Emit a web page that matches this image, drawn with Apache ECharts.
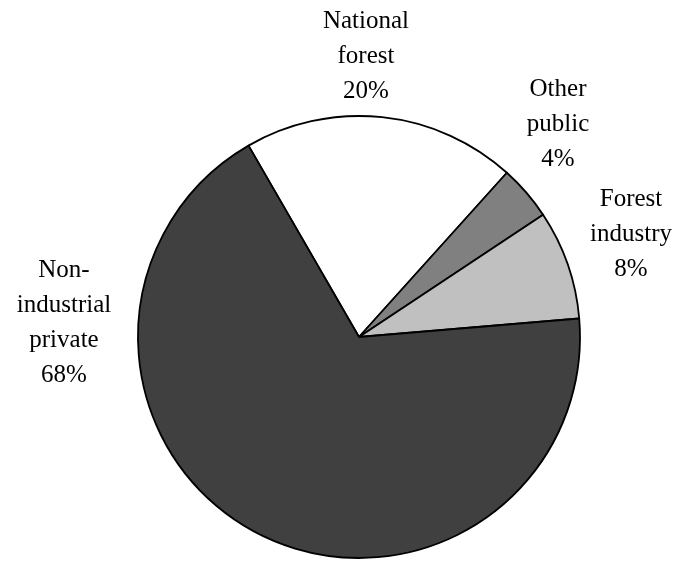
<!DOCTYPE html>
<html>
<head>
<meta charset="utf-8">
<script src="https://cdn.jsdelivr.net/npm/echarts@6/dist/echarts.min.js"></script>
<style>
  html, body { margin: 0; padding: 0; background: #fff; }
  #chart { width: 678px; height: 562px; }
</style>
</head>
<body>
<div id="chart"></div>
<script>
// Ownership shares (percent), listed clockwise from the top-left edge
const categories = ['National\nforest', 'Other\npublic', 'Forest\nindustry', 'Non-\nindustrial\nprivate'];
const shares = [20, 4, 8, 68];
const sliceColors = ['#ffffff', '#808080', '#c0c0c0', '#404040'];

// Centre points of each label block
const labelAnchors = [[366, 56], [558, 124], [631, 234], [64, 323]];

const chart = echarts.init(document.getElementById('chart'), null, { renderer: 'canvas' });

chart.setOption({
  animation: false,
  backgroundColor: '#ffffff',
  series: [{
    type: 'pie',
    center: [359, 337],
    radius: 221,
    startAngle: 120,
    clockwise: true,
    silent: true,
    data: categories.map((name, i) => ({
      name: name,
      value: shares[i],
      itemStyle: { color: sliceColors[i] }
    })),
    itemStyle: { borderColor: '#000000', borderWidth: 1.8 },
    label: {
      show: true,
      position: 'outside',
      alignTo: 'none',
      overflow: 'none',
      width: 200,
      formatter: p => p.name + '\n' + p.value + '%',
      fontFamily: '"Liberation Serif", "Times New Roman", serif',
      fontSize: 25,
      lineHeight: 35,
      color: '#000000',
      align: 'center'
    },
    labelLine: { show: false },
    labelLayout: params => ({
      x: labelAnchors[params.dataIndex][0],
      y: labelAnchors[params.dataIndex][1],
      align: 'center',
      verticalAlign: 'middle',
      hideOverlap: false
    })
  }]
});
</script>
</body>
</html>
